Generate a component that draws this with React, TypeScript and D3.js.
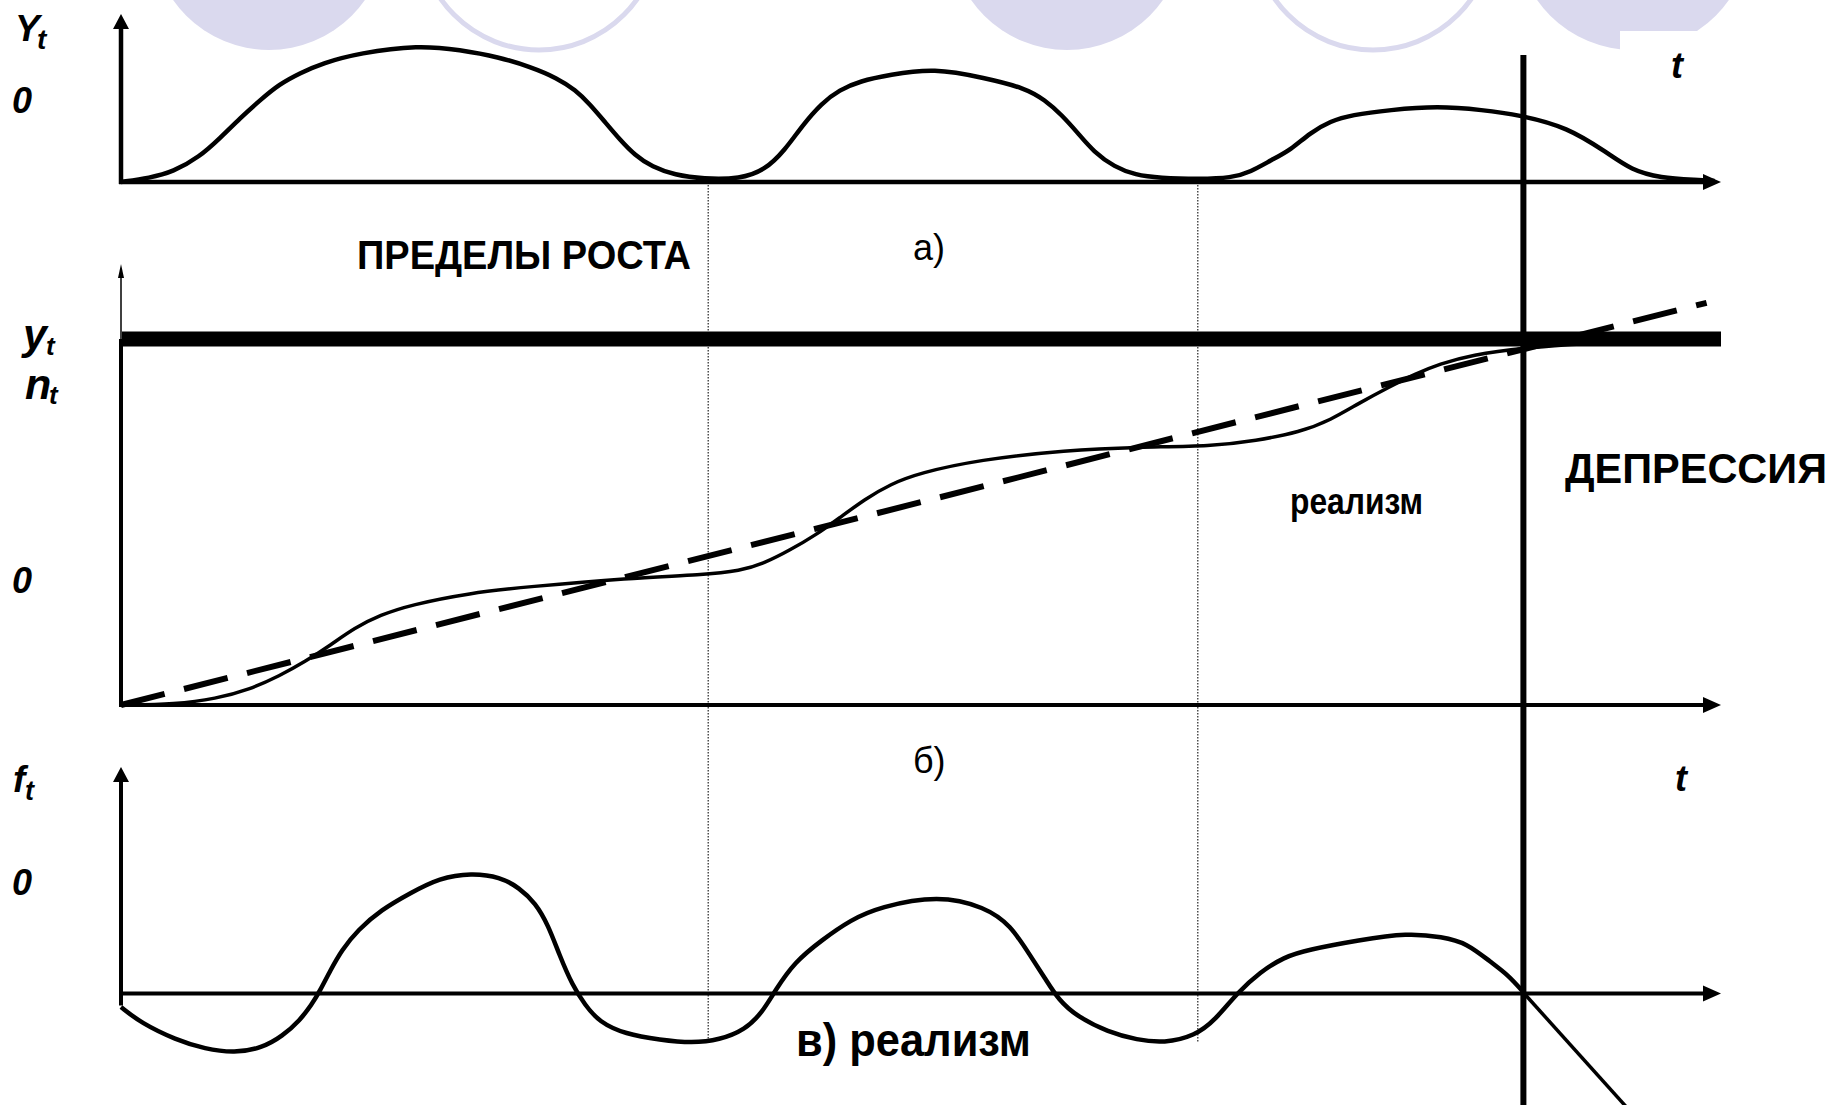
import React, { useEffect, useRef } from "react";
import * as d3 from "d3";

const W = 1837;
const H = 1105;

// shared time axis, arbitrary units 0..100
const cycleBounds = [36.7, 67.3];
const depressionT = 87.65;

// a) Y_t : output fluctuations
const waveT = [0, 1.8, 3.25, 4.9, 6.2, 7.45, 8.7, 9.9, 11.2, 12.6, 14.9, 18.6, 21.2, 23.6, 25.6, 27.25, 28.4, 29.3, 30.25, 31.2, 32.1, 33.2, 34.6, 36.4, 38.7, 40.25, 41.5, 42.6, 43.8, 44.9, 46.2, 48, 50.8, 54, 56.5, 57.75, 58.8, 59.8, 60.8, 62.1, 63.4, 64.9, 67.4, 69.4, 70.6, 71.9, 73.1, 74.3, 75.6, 76.9, 79.3, 82.3, 85.1, 87.4, 90.4, 92.9, 94.4, 96.2, 98.5, 99.6];
const waveV = [0, 2.4, 6, 14.9, 26.2, 38.1, 48.8, 58.3, 64.9, 70.8, 76.8, 81.5, 78.6, 74.4, 68.5, 61.9, 54.8, 46.4, 35.7, 25, 16.1, 8.9, 4.2, 1.8, 1.8, 7.1, 19, 33.9, 47, 54.8, 60.1, 63.7, 67.9, 61.9, 56, 48.8, 39.9, 29.2, 17.9, 8.9, 4.2, 2.4, 1.8, 2.4, 6, 13.1, 19, 29.2, 36.3, 39.9, 42.9, 45.2, 42.9, 39.9, 32.7, 17.3, 7.1, 2.4, 1.2, 0.6];

// б) y_t, n_t : cumulative growth, trend and limit of growth
const growthT = [0, 3.44, 5.9, 8.1, 9.9, 11.5, 13.1, 14.6, 16.2, 18.1, 21.8, 25.4, 31.7, 36.4, 38.7, 40.25, 41.8, 43.4, 44.9, 46.5, 48.1, 49.9, 53.6, 59.1, 63.5, 68.25, 70.9, 73.7, 75.6, 77.4, 79.25, 80.9, 82.4, 84.4, 87.7, 91.4, 93.1];
const growthV = [0, 0.2, 1.4, 3.6, 6.6, 9.8, 13.6, 17.5, 20.4, 22.7, 25.4, 26.8, 28.8, 29.5, 30.4, 32.2, 35.1, 38.5, 42.4, 46.7, 50.1, 52.6, 55.6, 57.8, 58.5, 58.7, 59.9, 61.9, 64.6, 68.5, 72.1, 75.1, 77.3, 79.4, 81, 81.9, 82.5];
const trendT = [0, 99.1];
const trendV = [0, 91.2];
const limitLevel = 83;

// в) f_t : deviations from trend
const fluctT = [0, 1.25, 3.44, 5.25, 7.1, 8.8, 10.1, 11.2, 11.9, 12.4, 13.1, 13.8, 14.8, 16.25, 18.1, 19.9, 21.9, 23.7, 24.9, 25.9, 26.7, 27.4, 28.2, 29, 29.9, 31.5, 33.7, 35.7, 37.4, 39, 40.1, 40.9, 42.1, 43.8, 45.6, 47.4, 51.1, 54, 55.6, 56.8, 57.75, 58.6, 59.8, 61.7, 63.5, 65.2, 67.1, 68.4, 69.75, 71.2, 72.7, 74.1, 77.4, 80.4, 82.6, 84.1, 85.6, 86.7, 87.7];
const fluctV = [-6, -13, -20.5, -24.5, -26.3, -24.1, -18.8, -11.7, -5.1, 0.7, 10.4, 19.2, 28, 36.9, 44.4, 51, 53.2, 51.5, 46.6, 40, 30.2, 17, 3.8, -5.1, -12.6, -17.9, -20.5, -21.9, -20.5, -16.1, -8.2, 1.5, 13.9, 23.6, 32.5, 38.2, 43.5, 38.2, 30.2, 17, 6.8, -2.9, -10.4, -17, -20.5, -21.9, -18.8, -11.7, 0.2, 9.5, 16.1, 19.2, 23.6, 26.7, 25, 22.3, 13.9, 8.2, 0.2];
const collapseT = [87.7, 94.2];
const collapseV = [0, -51];

const FONT = "'Liberation Sans', Arial, sans-serif";
const LAV = "#dad9ee";

const zip = (ts: number[], vs: number[]) => ts.map((t, i) => [t, vs[i]] as [number, number]);

export default function App() {
  const ref = useRef<SVGSVGElement>(null);

  useEffect(() => {
    const svg = d3.select(ref.current);
    svg.selectAll("*").remove();

    const x = d3.scaleLinear().domain([0, 100]).range([121, 1721]);
    const yA = d3.scaleLinear().domain([0, 100]).range([182, 14]);
    const yB = d3.scaleLinear().domain([0, 100]).range([705, 264]);
    const yC = d3.scaleLinear().domain([0, 100]).range([993.5, 767]);

    svg.append("rect").attr("width", W).attr("height", H).attr("fill", "#fff");

    // slide decoration at the top edge
    const deco = svg.append("g");
    [269, 1067, 1633].forEach(cx =>
      deco.append("circle").attr("cx", cx).attr("cy", -67).attr("r", 117).attr("fill", LAV));
    [539, 1373].forEach(cx =>
      deco.append("circle").attr("cx", cx).attr("cy", -70).attr("r", 120)
        .attr("fill", "none").attr("stroke", LAV).attr("stroke-width", 5));
    deco.append("rect").attr("x", 1620).attr("y", 31).attr("width", 217).attr("height", 60).attr("fill", "#fff");

    const curve = (ys: d3.ScaleLinear<number, number>) =>
      d3.line<[number, number]>().x(d => x(d[0])).y(d => ys(d[1])).curve(d3.curveBasis);
    const straight = (ys: d3.ScaleLinear<number, number>) =>
      d3.line<[number, number]>().x(d => x(d[0])).y(d => ys(d[1]));

    // dotted cycle boundaries through all panels
    svg.append("g").selectAll("line").data(cycleBounds).join("line")
      .attr("x1", d => x(d)).attr("x2", d => x(d))
      .attr("y1", yA(0)).attr("y2", 1042)
      .attr("stroke", "#222").attr("stroke-width", 1.2).attr("stroke-dasharray", "1.5,1.5");

    const axes = svg.append("g").attr("stroke", "#000").attr("fill", "none");
    const arrowRight = (yy: number) =>
      svg.append("path").attr("d", `M${x(100)},${yy} L${x(100) - 18},${yy - 8} L${x(100) - 18},${yy + 8} Z`).attr("fill", "#000");
    const arrowUp = (yy: number, hw: number, len: number) =>
      svg.append("path").attr("d", `M${x(0)},${yy} L${x(0) - hw},${yy + len} L${x(0) + hw},${yy + len} Z`).attr("fill", "#000");

    // panel a
    axes.append("line").attr("x1", x(0)).attr("x2", x(0)).attr("y1", yA(0) + 2).attr("y2", yA(100) + 10).attr("stroke-width", 4.5);
    axes.append("line").attr("x1", x(0) - 2).attr("x2", x(100) - 10).attr("y1", yA(0)).attr("y2", yA(0)).attr("stroke-width", 4.5);
    arrowUp(yA(100), 8, 15);
    arrowRight(yA(0));

    // panel б
    axes.append("line").attr("x1", x(0)).attr("x2", x(0)).attr("y1", yB(0) + 2).attr("y2", yB(limitLevel)).attr("stroke-width", 4);
    axes.append("line").attr("x1", x(0)).attr("x2", x(0)).attr("y1", yB(limitLevel)).attr("y2", yB(100) + 6).attr("stroke-width", 1.5);
    axes.append("line").attr("x1", x(0) - 2).attr("x2", x(100) - 10).attr("y1", yB(0)).attr("y2", yB(0)).attr("stroke-width", 4);
    arrowUp(yB(100), 3, 14);
    arrowRight(yB(0));

    // panel в
    axes.append("line").attr("x1", x(0)).attr("x2", x(0)).attr("y1", yC(0) + 12).attr("y2", yC(100) + 10).attr("stroke-width", 4);
    axes.append("line").attr("x1", x(0) - 2).attr("x2", x(100) - 10).attr("y1", yC(0)).attr("y2", yC(0)).attr("stroke-width", 4);
    arrowUp(yC(100), 8, 15);
    arrowRight(yC(0));

    // limit of growth
    svg.append("line").attr("x1", x(0) + 1).attr("x2", x(100)).attr("y1", yB(limitLevel)).attr("y2", yB(limitLevel))
      .attr("stroke", "#000").attr("stroke-width", 15);

    // depression line
    svg.append("line").attr("x1", x(depressionT)).attr("x2", x(depressionT)).attr("y1", 55).attr("y2", H)
      .attr("stroke", "#000").attr("stroke-width", 6);

    // series
    svg.append("path").attr("d", curve(yA)(zip(waveT, waveV))!)
      .attr("fill", "none").attr("stroke", "#000").attr("stroke-width", 4.5).attr("stroke-linejoin", "round");
    svg.append("path").attr("d", straight(yB)(zip(trendT, trendV))!)
      .attr("fill", "none").attr("stroke", "#000").attr("stroke-width", 6).attr("stroke-dasharray", "45,20");
    svg.append("path").attr("d", curve(yB)(zip(growthT, growthV))!)
      .attr("fill", "none").attr("stroke", "#000").attr("stroke-width", 3.5);
    svg.append("path").attr("d", curve(yC)(zip(fluctT, fluctV))!)
      .attr("fill", "none").attr("stroke", "#000").attr("stroke-width", 4.5).attr("stroke-linejoin", "round");
    svg.append("path").attr("d", straight(yC)(zip(collapseT, collapseV))!)
      .attr("fill", "none").attr("stroke", "#000").attr("stroke-width", 3.5);

    // texts
    const txt = (tx: number, ty: number, s: string, size: number, weight: string, style: string, len?: number) => {
      const t = svg.append("text").attr("x", tx).attr("y", ty).text(s)
        .attr("font-family", FONT).attr("font-size", size).attr("font-weight", weight)
        .attr("font-style", style).attr("fill", "#000");
      if (len) t.attr("textLength", len).attr("lengthAdjust", "spacingAndGlyphs");
      return t;
    };
    // axis labels
    txt(15, 41, "Y", 37, "bold", "italic");
    txt(37, 49, "t", 28, "bold", "italic");
    txt(12, 113, "0", 36, "bold", "italic");
    txt(1671, 78, "t", 36, "bold", "italic");

    txt(23, 349, "y", 43, "bold", "italic");
    txt(46, 355, "t", 26, "bold", "italic");
    txt(25, 399, "n", 43, "bold", "italic");
    txt(49, 404, "t", 26, "bold", "italic");
    txt(12, 593, "0", 36, "bold", "italic");

    txt(13, 792, "f", 37, "bold", "italic");
    txt(25, 800, "t", 27, "bold", "italic");
    txt(12, 895, "0", 36, "bold", "italic");
    txt(1675, 791, "t", 36, "bold", "italic");

    // captions
    txt(357, 269, "ПРЕДЕЛЫ РОСТА", 40, "bold", "normal", 334);
    txt(913, 260, "а)", 36, "normal", "normal");
    txt(913, 773, "б)", 36, "normal", "normal");
    txt(1565, 483, "ДЕПРЕССИЯ", 43, "bold", "normal", 262);
    txt(1290, 514, "реализм", 36, "bold", "normal", 133);
    txt(796, 1056, "в)  реализм", 46, "bold", "normal", 235);
  }, []);

  return (
    <svg ref={ref} width={W} height={H}
      style={{ position: "absolute", left: 0, top: 0, display: "block" }} />
  );
}
